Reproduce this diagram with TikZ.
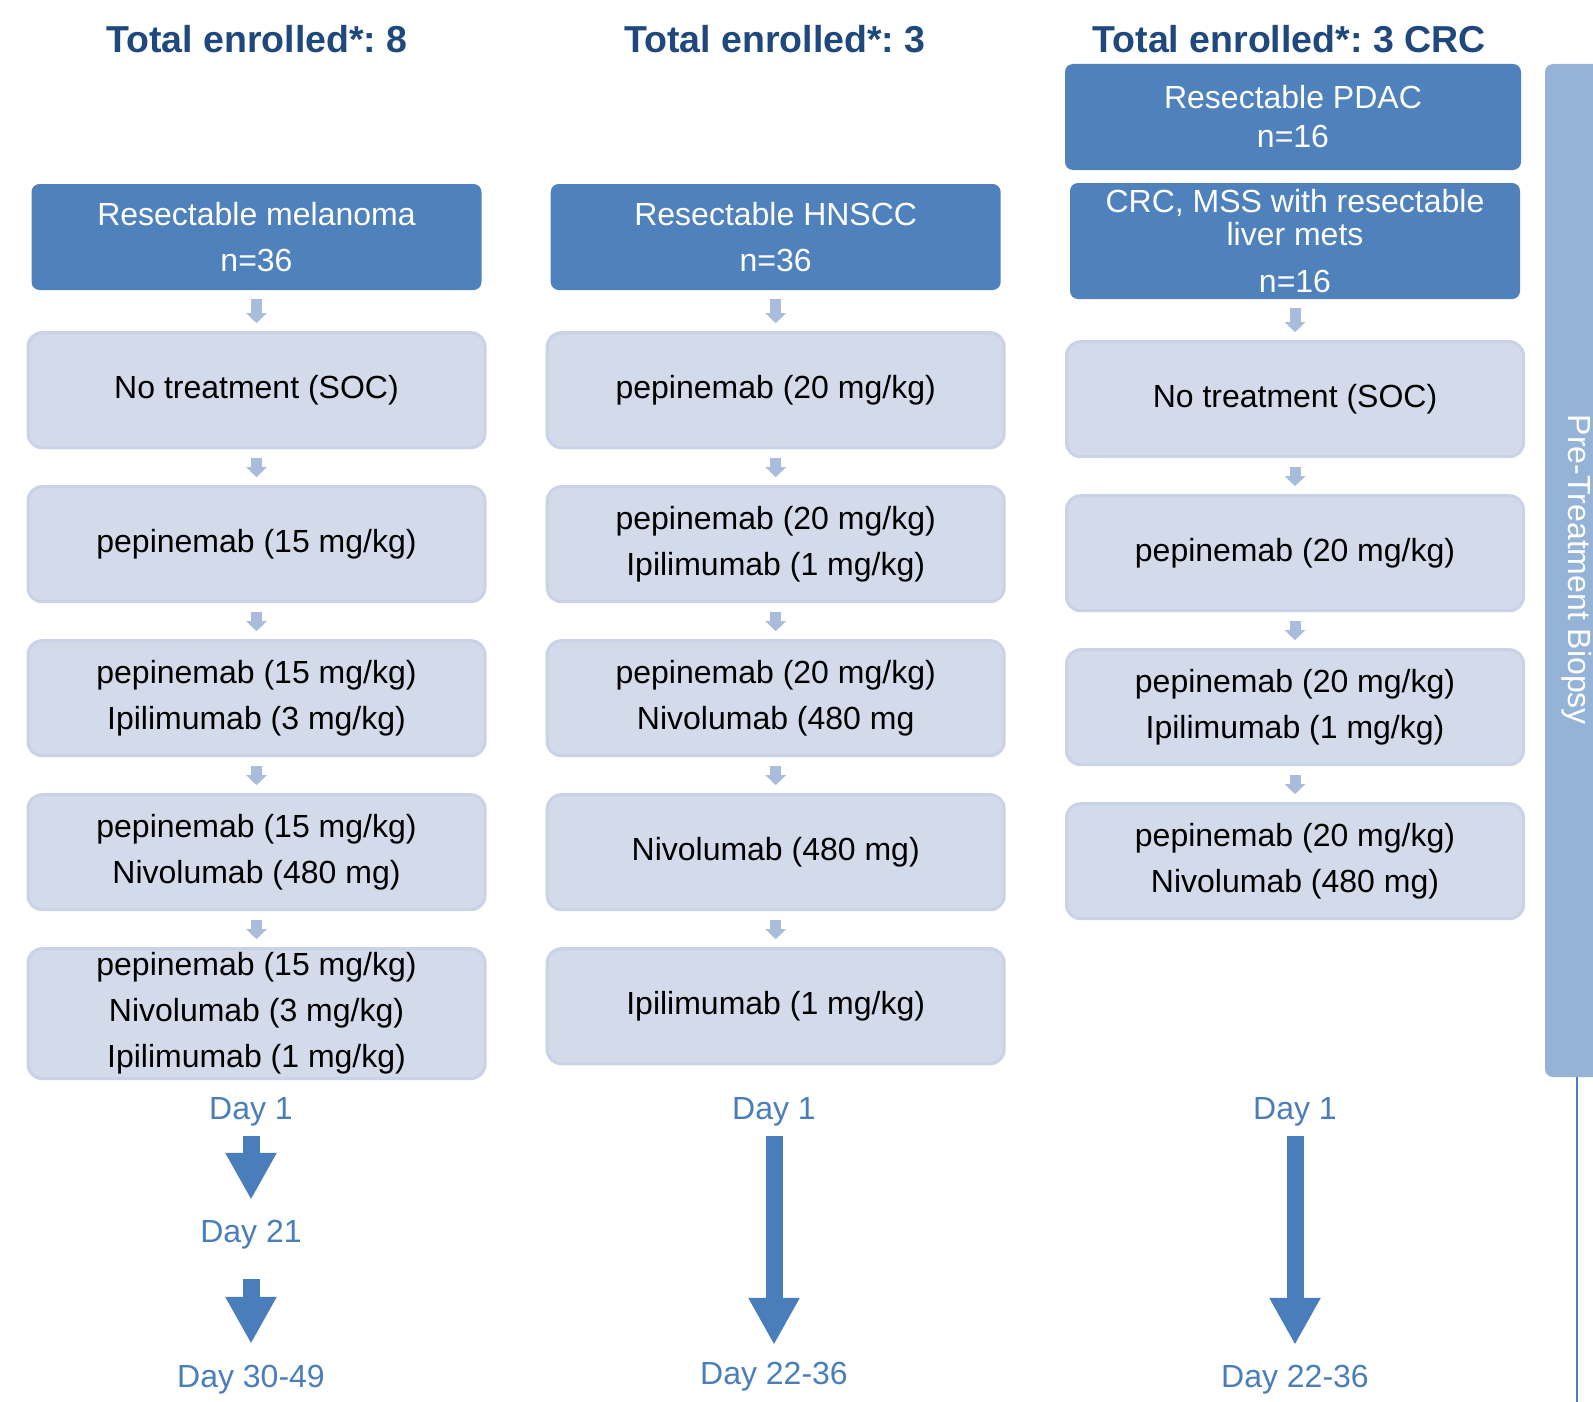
\documentclass[tikz,border=0pt]{standalone}
\usepackage{fontspec}
\setmainfont{Liberation Sans}
\frenchspacing
\usetikzlibrary{positioning,arrows.meta}
\definecolor{cohortblue}{HTML}{4F81BD}
\definecolor{armfill}{HTML}{D3DBEA}
\definecolor{armedge}{HTML}{C9D2E6}
\definecolor{titleblue}{HTML}{1F497D}
\definecolor{dayblue}{HTML}{4A7EBB}
\definecolor{stepgrey}{HTML}{A9BCDC}
\definecolor{barblue}{HTML}{95B3D7}
\tikzset{cohort/.style={fill=cohortblue,text=white,rounded corners=8pt,align=center,
           font=\fontsize{32}{46}\selectfont,minimum width=450pt,minimum height=106pt,inner sep=2pt},
         arm/.style={draw=armedge,line width=3pt,fill=armfill,rounded corners=14pt,align=center,
           font=\fontsize{32}{46}\selectfont,minimum width=457pt,minimum height=115pt,inner sep=4pt},
         heading/.style={text=titleblue,font=\bfseries\fontsize{37.5}{40}\selectfont},
         day/.style={text=dayblue,font=\fontsize{32}{36}\selectfont,inner sep=0pt,
           text height=23pt,text depth=7pt,anchor=base},
         stepto/.style={draw=stepgrey,line width=11pt,-{Triangle[width=20pt,length=10pt]},
           shorten <=9pt,shorten >=8pt},
         period/.style={draw=dayblue,line width=17pt,-{Triangle[width=48pt,length=47pt]}},
         biopsyline/.style={draw=dayblue,line width=2.5pt}
         }

\begin{document}
\begin{tikzpicture}[x=1pt,y=-1pt]
\clip (0,0) rectangle (1593,1402);
% headings
\node[heading] (hmel) at (257,39) {Total enrolled*: 8};
\node[heading] (hhn) at (775,39) {Total enrolled*: 3};
\node[heading] (hcrc) at (1289,39) {Total enrolled*: 3 CRC};

% melanoma
\node[cohort] (mel) at (256.5,237) {Resectable melanoma\\n=36};
\node[arm,below=41pt of mel] (mel1) {No treatment (SOC)};
\node[arm,below=36pt of mel1] (mel2) {pepinemab (15 mg/kg)};
\node[arm,below=36pt of mel2] (mel3) {pepinemab (15 mg/kg)\\Ipilimumab (3 mg/kg)};
\node[arm,below=36pt of mel3] (mel4) {pepinemab (15 mg/kg)\\Nivolumab (480 mg)};
\node[arm,below=36pt of mel4] (mel5) {pepinemab (15 mg/kg)\\Nivolumab (3 mg/kg)\\Ipilimumab (1 mg/kg)};
\draw[stepto] (mel) -- (mel1);
\draw[stepto] (mel1) -- (mel2);
\draw[stepto] (mel2) -- (mel3);
\draw[stepto] (mel3) -- (mel4);
\draw[stepto] (mel4) -- (mel5);

% HNSCC
\node[cohort] (hn) at (775.7,237) {Resectable HNSCC\\n=36};
\node[arm,below=41pt of hn] (hn1) {pepinemab (20 mg/kg)};
\node[arm,below=36pt of hn1] (hn2) {pepinemab (20 mg/kg)\\Ipilimumab (1 mg/kg)};
\node[arm,below=36pt of hn2] (hn3) {pepinemab (20 mg/kg)\\Nivolumab (480 mg};
\node[arm,below=36pt of hn3] (hn4) {Nivolumab (480 mg)};
\node[arm,below=36pt of hn4] (hn5) {Ipilimumab (1 mg/kg)};
\draw[stepto] (hn) -- (hn1);
\draw[stepto] (hn1) -- (hn2);
\draw[stepto] (hn2) -- (hn3);
\draw[stepto] (hn3) -- (hn4);
\draw[stepto] (hn4) -- (hn5);

% PDAC / CRC
\node[cohort,minimum width=456pt,font=\fontsize{32}{39}\selectfont] (pdac) at (1293,117) {Resectable PDAC\\n=16};
\node[cohort,minimum height=116pt,font=\fontsize{32}{33}\selectfont] (crc) at (1295,241)
  {CRC, MSS with resectable\\liver mets\\[14pt]n=16};
\node[arm,below=41pt of crc] (crc1) {No treatment (SOC)};
\node[arm,below=36pt of crc1] (crc2) {pepinemab (20 mg/kg)};
\node[arm,below=36pt of crc2] (crc3) {pepinemab (20 mg/kg)\\Ipilimumab (1 mg/kg)};
\node[arm,below=36pt of crc3] (crc4) {pepinemab (20 mg/kg)\\Nivolumab (480 mg)};
\draw[stepto] (crc) -- (crc1);
\draw[stepto] (crc1) -- (crc2);
\draw[stepto] (crc2) -- (crc3);
\draw[stepto] (crc3) -- (crc4);

% timing
\node[day] (mday1) at (251,1119) {Day 1};
\node[day] (mday21) at (251,1242) {Day 21};
\node[day] (mday30) at (251,1387) {Day 30-49};
\draw[period,shorten <=10pt,shorten >=19pt] (mday1) -- (mday21);
\draw[period,shorten <=30pt,shorten >=20pt] (mday21) -- (mday30);
\node[day] (hday1) at (774,1119) {Day 1};
\node[day] (hday22) at (774,1384) {Day 22-36};
\draw[period,shorten <=10pt,shorten >=16pt] (hday1) -- (hday22);
\node[day] (cday1) at (1295,1119) {Day 1};
\node[day] (cday22) at (1295,1387) {Day 22-36};
\draw[period,shorten <=10pt,shorten >=19pt] (cday1) -- (cday22);

% biopsy bar
\fill[barblue,rounded corners=8pt] (1545,64) rectangle (1630,1077);
\node[rotate=-90,text=white,font=\fontsize{32}{36}\selectfont] (biopsy) at (1577,570) {Pre-Treatment Biopsy};
\coordinate (barfoot) at (1577,1077);
\coordinate (pagefoot) at (1577,1402);
\draw[biopsyline] (barfoot) -- (pagefoot);
\end{tikzpicture}
\end{document}
